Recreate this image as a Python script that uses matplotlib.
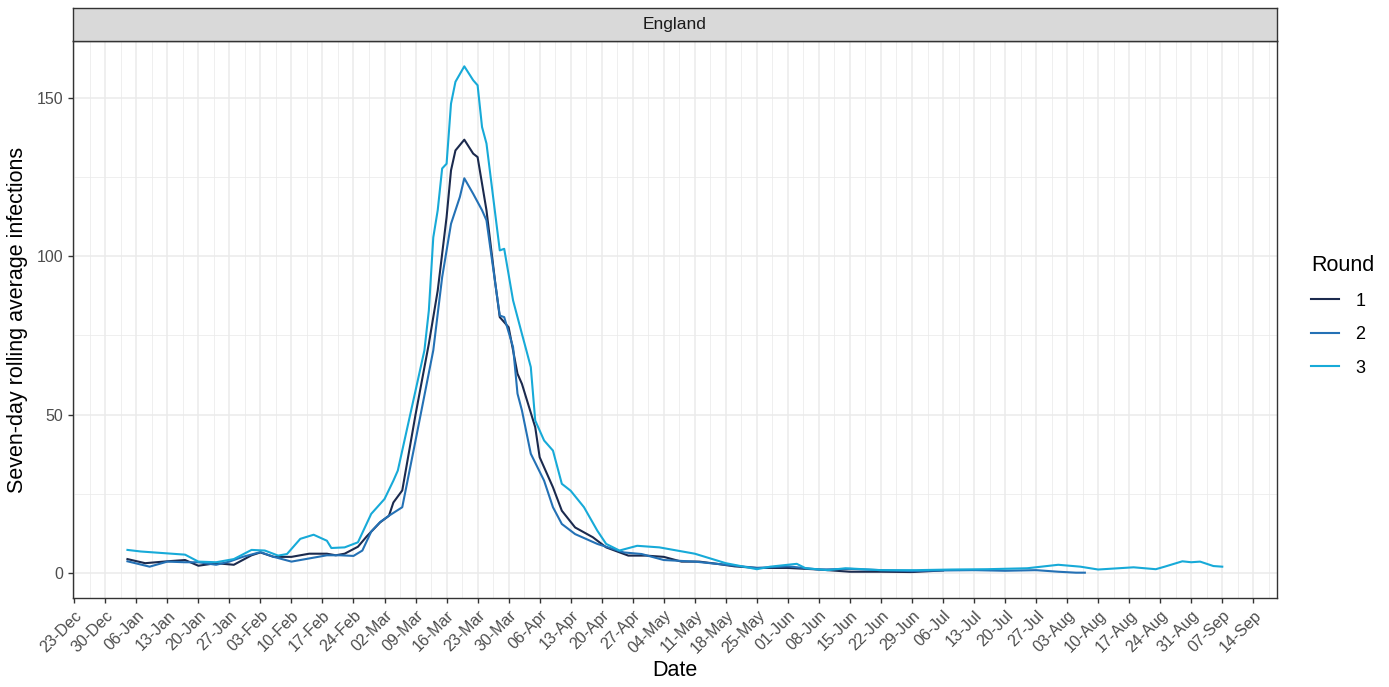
import numpy as np
import pandas as pd
import matplotlib
matplotlib.use("Agg")
import matplotlib.pyplot as plt
import matplotlib.dates as mdates

plt.rcParams['font.family'] = ['Liberation Sans', 'DejaVu Sans']

# Round 1 (navy)
r1_dates = ["2020-01-04", "2020-01-08", "2020-01-13", "2020-01-17", "2020-01-20", "2020-01-24",
            "2020-01-28", "2020-01-30", "2020-02-01", "2020-02-03", "2020-02-06", "2020-02-10",
            "2020-02-14", "2020-02-18", "2020-02-20", "2020-02-22", "2020-02-25", "2020-02-27",
            "2020-03-01", "2020-03-03", "2020-03-04", "2020-03-06", "2020-03-09", "2020-03-12",
            "2020-03-14", "2020-03-16", "2020-03-17", "2020-03-18", "2020-03-20", "2020-03-22",
            "2020-03-23", "2020-03-25", "2020-03-27", "2020-03-28", "2020-03-30", "2020-03-31",
            "2020-04-01", "2020-04-02", "2020-04-05", "2020-04-06", "2020-04-09", "2020-04-11",
            "2020-04-14", "2020-04-18", "2020-04-21", "2020-04-26", "2020-04-30", "2020-05-04",
            "2020-05-08", "2020-05-12", "2020-05-16", "2020-05-20", "2020-05-25", "2020-06-01",
            "2020-06-08", "2020-06-15", "2020-06-22", "2020-06-29", "2020-07-06"]
r1_vals = [4.3, 3.0, 3.6, 4.0, 2.2, 3.0,
           2.5, 4.0, 5.5, 6.4, 5.0, 5.0,
           6.0, 6.0, 5.5, 6.0, 8.2, 11.5,
           15.9, 18.0, 22.2, 26.0, 50.0, 72.4,
           89.2, 112.4, 127.2, 133.5, 136.9, 132.5,
           131.4, 114.6, 91.4, 80.8, 77.6, 70.3,
           62.9, 59.7, 46.0, 36.5, 27.0, 19.6,
           14.3, 11.2, 8.0, 5.4, 5.4, 5.0,
           3.5, 3.5, 2.8, 2.0, 1.5, 1.5,
           1.0, 0.3, 0.3, 0.2, 0.7]

# Round 2 (mid blue)
r2_dates = ["2020-01-04", "2020-01-09", "2020-01-13", "2020-01-17", "2020-01-20", "2020-01-24",
            "2020-01-27", "2020-01-30", "2020-02-03", "2020-02-06", "2020-02-10", "2020-02-14",
            "2020-02-18", "2020-02-21", "2020-02-24", "2020-02-26", "2020-02-28", "2020-03-01",
            "2020-03-03", "2020-03-06", "2020-03-09", "2020-03-13", "2020-03-15", "2020-03-17",
            "2020-03-19", "2020-03-20", "2020-03-22", "2020-03-24", "2020-03-25", "2020-03-28",
            "2020-03-29", "2020-03-31", "2020-04-01", "2020-04-02", "2020-04-04", "2020-04-07",
            "2020-04-09", "2020-04-11", "2020-04-14", "2020-04-19", "2020-04-25", "2020-04-29",
            "2020-05-04", "2020-05-11", "2020-05-18", "2020-05-25", "2020-06-01", "2020-06-08",
            "2020-06-15", "2020-06-22", "2020-06-29", "2020-07-06", "2020-07-13", "2020-07-20",
            "2020-07-27", "2020-08-01", "2020-08-05", "2020-08-07"]
r2_vals = [3.6, 1.9, 3.5, 3.3, 3.3, 2.5,
           3.5, 5.0, 6.5, 5.0, 3.5, 4.5,
           5.5, 5.5, 5.3, 7.0, 13.0, 16.0,
           18.0, 20.7, 41.8, 70.3, 93.4, 110.3,
           118.8, 124.7, 119.8, 114.6, 111.4, 81.3,
           80.8, 71.3, 56.6, 51.3, 37.6, 29.1,
           20.7, 15.4, 12.2, 9.1, 6.4, 5.9,
           4.0, 3.5, 2.5, 1.5, 2.0, 1.0,
           1.2, 0.8, 0.5, 0.7, 0.8, 0.6,
           0.8, 0.3, 0.0, 0.0]

# Round 3 (light blue)
r3_dates = ["2020-01-04", "2020-01-07", "2020-01-13", "2020-01-17", "2020-01-20", "2020-01-24",
            "2020-01-28", "2020-02-01", "2020-02-04", "2020-02-07", "2020-02-09", "2020-02-12",
            "2020-02-15", "2020-02-18", "2020-02-19", "2020-02-22", "2020-02-25", "2020-02-28",
            "2020-03-02", "2020-03-04", "2020-03-05", "2020-03-09", "2020-03-11", "2020-03-12",
            "2020-03-13", "2020-03-14", "2020-03-15", "2020-03-16", "2020-03-17", "2020-03-18",
            "2020-03-20", "2020-03-22", "2020-03-23", "2020-03-24", "2020-03-25", "2020-03-28",
            "2020-03-29", "2020-03-31", "2020-04-01", "2020-04-02", "2020-04-03", "2020-04-04",
            "2020-04-05", "2020-04-07", "2020-04-09", "2020-04-11", "2020-04-13", "2020-04-16",
            "2020-04-19", "2020-04-21", "2020-04-24", "2020-04-28", "2020-05-03", "2020-05-11",
            "2020-05-18", "2020-05-25", "2020-05-28", "2020-06-03", "2020-06-05", "2020-06-10",
            "2020-06-14", "2020-06-22", "2020-06-30", "2020-07-08", "2020-07-16", "2020-07-25",
            "2020-08-01", "2020-08-06", "2020-08-10", "2020-08-18", "2020-08-23", "2020-08-25",
            "2020-08-29", "2020-08-31", "2020-09-02", "2020-09-05", "2020-09-07"]
r3_vals = [7.2, 6.7, 6.1, 5.7, 3.5, 3.3,
           4.3, 7.2, 7.0, 5.4, 5.9, 10.7,
           12.0, 10.1, 7.8, 8.0, 9.6, 18.6,
           23.3, 29.1, 32.3, 57.6, 70.3, 82.9,
           106.0, 114.6, 127.8, 129.3, 148.3, 155.2,
           160.1, 155.7, 154.1, 140.9, 135.7, 101.9,
           102.4, 86.1, 80.8, 75.5, 70.3, 65.0,
           48.1, 41.8, 38.6, 28.1, 25.9, 20.7,
           13.3, 9.1, 7.0, 8.5, 8.0, 6.0,
           3.0, 1.1, 1.9, 2.8, 1.4, 0.8,
           1.4, 0.8, 0.8, 1.0, 1.1, 1.4,
           2.5, 1.9, 1.0, 1.7, 1.1, 1.9,
           3.6, 3.3, 3.5, 2.1, 1.9]

rounds = ["1", "2", "3"]
colors = ["#1b2a4e", "#2471b5", "#17aad8"]

W, H = 1389, 687
fig = plt.figure(figsize=(W / 100, H / 100), dpi=100)
left, right, top, bottom = 72.7, 1277, 41, 598
ax = fig.add_axes([left / W, 1 - bottom / H, (right - left) / W, (bottom - top) / H])

series = [(r1_dates, r1_vals), (r2_dates, r2_vals), (r3_dates, r3_vals)]
for (d, v), lab, c in zip(series, rounds, colors):
    ax.plot(pd.to_datetime(d), v, color=c, lw=1.5, label=lab)

ax.margins(x=0.05, y=0.05)

# weekly breaks
ax.xaxis.set_major_locator(mdates.WeekdayLocator(byweekday=mdates.MO, interval=1))
ax.xaxis.set_major_formatter(mdates.DateFormatter("%d-%b"))
minor = pd.date_range("2019-12-19 12:00", "2020-09-24", freq="7D")
ax.set_xticks(minor, minor=True)
ax.set_yticks([0, 50, 100, 150])
ax.set_yticks([25, 75, 125], minor=True)
ax.set_xlim(pd.Timestamp("2020-01-04") - pd.Timedelta(days=12.35),
            pd.Timestamp("2020-09-07") + pd.Timedelta(days=12.35))

ax.grid(which="major", color="#ebebeb", lw=1.1)
ax.grid(which="minor", color="#ebebeb", lw=0.55)
ax.set_axisbelow(True)
for s in ax.spines.values():
    s.set_color("#333333")
    s.set_linewidth(1.0)

ax.tick_params(which="major", length=3.5, width=1.0, color="#333333", labelcolor="#4d4d4d",
               labelsize=11.5)
ax.tick_params(which="minor", length=0)
plt.setp(ax.get_xticklabels(), rotation=45, ha="right", rotation_mode="anchor")

ax.set_xlabel("Date", fontsize=15.5, labelpad=3)
ax.set_ylabel("Seven-day rolling average infections", fontsize=15.5, labelpad=6)

# facet strip
strip = fig.add_axes([left / W, 1 - top / H, (right - left) / W, 33 / H])
strip.set_facecolor("#d9d9d9")
strip.set_xticks([])
strip.set_yticks([])
for s in strip.spines.values():
    s.set_color("#333333")
    s.set_linewidth(1.0)
strip.text(0.5, 0.5, "England", ha="center", va="center", fontsize=12.5, color="#1a1a1a",
           transform=strip.transAxes)

leg = ax.legend(title="Round", loc="upper left", bbox_to_anchor=(1.015, 0.645), frameon=False,
                fontsize=13, title_fontsize=15.5, handlelength=1.55, labelspacing=0.92,
                handletextpad=0.9, alignment="left")

fig.savefig("out.png", dpi=100)
